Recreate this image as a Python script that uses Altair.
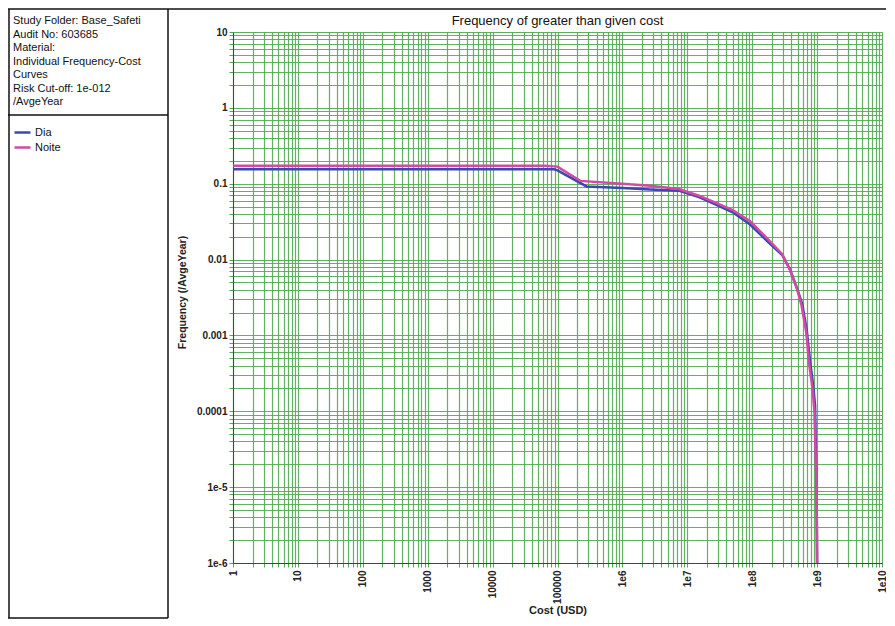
import altair as alt
import pandas as pd

# ---- data ----
cost_dia = [1, 89000, 100000, 280000, 1e6, 2.7e6, 7.4e6, 1.55e7, 2.5e7, 5e7, 9.3e7,
            1.7e8, 2.9e8, 3.8e8, 4.9e8, 5.9e8, 6.9e8, 7.8e8, 8.7e8, 9.3e8, 9.8e8, 1e9]
freq_dia = [0.155, 0.155, 0.15, 0.092, 0.088, 0.084, 0.081, 0.066, 0.055, 0.042, 0.029,
            0.0175, 0.0115, 0.0075, 0.0042, 0.0026, 0.0012, 0.00045, 0.00022, 0.00012, 0.00001, 0.000001]

cost_noite = [1, 63000, 100000, 224000, 1e6, 2.7e6, 7.4e6, 1.55e7, 2.5e7, 5e7, 9.3e7,
              1.7e8, 2.9e8, 3.8e8, 4.9e8, 5.75e8, 6.8e8, 7.6e8, 8.5e8, 9.1e8, 9.8e8, 1e9]
freq_noite = [0.172, 0.172, 0.168, 0.109, 0.100, 0.094, 0.085, 0.069, 0.058, 0.045, 0.032,
              0.019, 0.0118, 0.0074, 0.0041, 0.0025, 0.0011, 0.0004, 0.0002, 0.0001, 0.00001, 0.000001]

series_names = ["Dia", "Noite"]
series_colors = ["#3a48b0", "#d24aa6"]

x_major = [1, 10, 100, 1000, 10000, 100000, 1e6, 1e7, 1e8, 1e9, 1e10]
x_labels = ["1", "10", "100", "1000", "10000", "100000", "1e6", "1e7", "1e8", "1e9", "1e10"]
y_major = [10, 1, 0.1, 0.01, 0.001, 0.0001, 1e-5, 1e-6]
y_labels = ["10", "1", "0.1", "0.01", "0.001", "0.0001", "1e-5", "1e-6"]

info_lines = ["Study Folder: Base_Safeti", "Audit No: 603685", "Material:",
              "Individual Frequency-Cost", "Curves", "Risk Cut-off: 1e-012", "/AvgeYear"]
chart_title = "Frequency of greater than given cost"

# ---- build ----
df = pd.concat([
    pd.DataFrame({"cost": cost_dia, "freq": freq_dia, "series": "Dia", "i": range(len(cost_dia))}),
    pd.DataFrame({"cost": cost_noite, "freq": freq_noite, "series": "Noite", "i": range(len(cost_noite))}),
])

x_grid = [m * 10 ** k for k in range(0, 10) for m in range(1, 10)] + [1e10]
y_grid = [m * 10.0 ** k for k in range(-6, 1) for m in range(1, 10)] + [10]


def label_expr(vals, labels):
    e = ""
    for v, l in zip(vals, labels):
        e += f"abs(datum.value - {v!r}) < {v * 1e-6!r} ? '{l}' : "
    return e + "''"


GREEN = "#52a852"
FONT = "Liberation Sans"
W, H = 649, 531

xs = alt.Scale(type="log", domain=[1, 1e10], nice=False)
ys = alt.Scale(type="log", domain=[1e-6, 10], nice=False)

lines = alt.Chart(df).mark_line(strokeWidth=2.5, clip=True).encode(
    x=alt.X("cost:Q", scale=xs, axis=alt.Axis(
        values=x_grid, labelExpr=label_expr(x_major, x_labels),
        labelAngle=270, labelAlign="right", labelBaseline="middle",
        labelFont=FONT, labelFontSize=10, labelFontWeight="bold", labelColor="#222",
        labelPadding=3, labelOverlap=False, labelFlush=False,
        grid=True, gridColor=GREEN, gridWidth=1.2, gridOpacity=0.9,
        tickColor=GREEN, tickSize=4, domainColor="#444",
        title="Cost (USD)", titleFont=FONT, titleFontSize=11, titleFontWeight="bold",
        titleColor="#222", titleY=47, titleBaseline="middle")),
    y=alt.Y("freq:Q", scale=ys, axis=alt.Axis(
        values=y_grid, labelExpr=label_expr(y_major, y_labels),
        labelFont=FONT, labelFontSize=10, labelFontWeight="bold", labelColor="#222",
        labelPadding=2, labelOverlap=False, labelFlush=False,
        grid=True, gridColor=GREEN, gridWidth=1.2, gridOpacity=0.9,
        tickColor=GREEN, tickSize=4, domainColor="#444",
        title="Frequency (/AvgeYear)", titleFont=FONT, titleFontSize=10.5,
        titleFontWeight="bold", titleColor="#222", titleX=-51, titleY=260,
        titleAngle=270, titleBaseline="middle")),
    color=alt.Color("series:N", scale=alt.Scale(domain=series_names, range=series_colors),
                    legend=alt.Legend(orient="none", legendX=-220, legendY=91, title=None,
                                      symbolType="stroke", symbolSize=256, symbolStrokeWidth=2.5,
                                      labelFont=FONT, labelFontSize=11, labelColor="#111",
                                      labelOffset=3, rowPadding=0, padding=0)),
    detail="series:N",
    order="i:Q",
)


def rule(x1, x2, y1, y2, color="#111", w=1.5):
    return alt.Chart(alt.Data(values=[{}])).mark_rule(color=color, strokeWidth=w).encode(
        x=alt.value(x1), x2=alt.value(x2), y=alt.value(y1), y2=alt.value(y2))


frame = [
    rule(-225, 656, -23, -23),      # top line
    rule(-224, -224, -23, 586),     # left panel left edge
    rule(-65, -65, -23, 586),       # separator
    rule(-225, -65, 83, 83),        # info box bottom
    rule(-225, -65, 586, 586),      # panel bottom
]

info = alt.Chart(alt.Data(values=[{}])).mark_text(
    align="left", baseline="top", font=FONT, fontSize=11, color="#111",
    lineBreak="\n", lineHeight=13.5).encode(
    x=alt.value(-220), y=alt.value(-17), text=alt.value("\n".join(info_lines)))

title = alt.Chart(alt.Data(values=[{}])).mark_text(
    align="center", baseline="middle", font=FONT, fontSize=13, color="#111").encode(
    x=alt.value(W / 2), y=alt.value(-11), text=alt.value(chart_title))

chart = alt.layer(lines, *frame, info, title).properties(
    width=W, height=H,
    autosize=alt.AutoSizeParams(type="none"),
    padding={"left": 225, "top": 24, "right": 4, "bottom": 60},
).configure_view(stroke="#444", strokeWidth=1).configure(background="white")

chart.save("out.html", embed_options={"renderer": "svg", "actions": False})
